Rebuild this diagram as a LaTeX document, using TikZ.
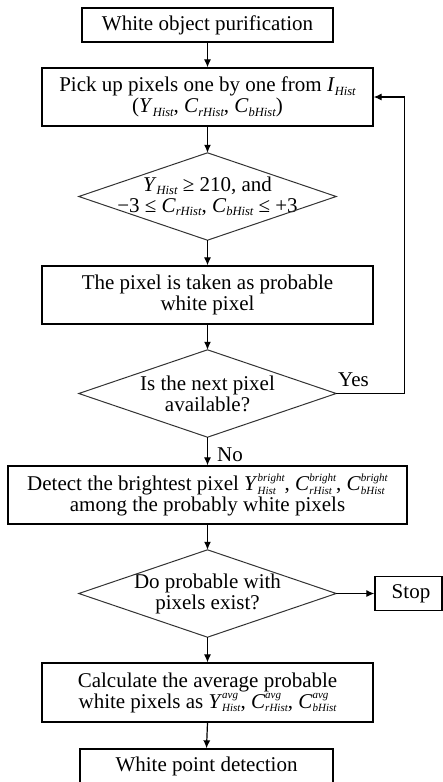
\documentclass[tikz,border=0pt]{standalone}
\usepackage{fontspec}
\setmainfont{Liberation Serif}
\usetikzlibrary{arrows.meta}
\newcommand\hsub[2]{\textit{#1}\raisebox{-3.5pt}{\fontsize{12.5}{12.5}\selectfont\itshape #2}}
\newcommand\hsupsub[3]{\textit{#1}\raisebox{-3.5pt}{\fontsize{11}{11}\selectfont\itshape\shortstack[l]{#2\\#3}}}
\begin{document}
\begin{tikzpicture}[x=1pt,y=-1pt,
  font=\fontsize{21}{21}\selectfont,
  box/.style={draw, line width=1.3pt, inner sep=0pt, align=center, minimum height=34pt},
  dia/.style={inner sep=0pt, align=center, minimum width=257pt, minimum height=87pt},
  diaedge/.style={draw=black!80, line width=1pt},
  arr/.style={line width=1.2pt, -{Latex[length=8pt,width=7pt]}},
  lbl/.style={inner sep=0pt, anchor=base west}]
\clip (0,0) rectangle (443,782);
\fill[white] (0,0) rectangle (443,782);

\node[box, minimum width=251pt] (b1) at (207.5,25) {White object purification};
\node[box, minimum width=331pt, minimum height=58pt] (b2) at (207.5,97)
  {Pick up pixels one by one from \hsub{I}{Hist}\\(\hsub{Y}{Hist}, \hsub{C}{rHist}, \hsub{C}{bHist})};
\node[dia] (d1) at (207.5,196.5)
  {\raisebox{3pt}{\hsub{Y}{Hist} ≥ 210, and}\\\raisebox{3pt}{−3 ≤ \hsub{C}{rHist}, \hsub{C}{bHist} ≤ +3}};
\node[box, minimum width=331pt, minimum height=58pt] (b3) at (207.5,295)
  {The pixel is taken as probable\\white pixel};
\node[dia] (d2) at (207.5,393.5) {Is the next pixel\\available?};
\node[box, minimum width=399pt, minimum height=58pt] (b4) at (207.5,495)
  {Detect the brightest pixel \hsupsub{Y}{bright}{Hist}, \hsupsub{C}{bright}{rHist}, \hsupsub{C}{bright}{bHist}\\among the probably white pixels};
\node[dia] (d3) at (207.5,593.5) {Do probable with\\pixels exist?};
\node[box, minimum width=67pt] (stop) at (408.5,593.5) {\hspace*{5pt}Stop};
\node[box, minimum width=331pt, minimum height=59pt] (b5) at (207.5,692.5)
  {Calculate the average probable\\white pixels as \hsupsub{Y}{avg}{Hist}, \hsupsub{C}{avg}{rHist}, \hsupsub{C}{avg}{bHist}};
\node[box, minimum width=253pt] (b6) at (206.5,766) {White point detection};

\foreach \d in {d1,d2,d3}
  \draw[diaedge] (\d.north) -- (\d.east) -- (\d.south) -- (\d.west) -- cycle;

\draw[arr] (b1.south) -- (b2.north);
\draw[arr] (b2.south) -- (d1.north);
\draw[arr] (d1.south) -- (b3.north);
\draw[arr] (b3.south) -- (d2.north);
\draw[arr] (d2.south) -- (b4.north);
\draw[arr] (b4.south) -- (d3.north);
\draw[arr] (d3.east) -- (stop.west);
\draw[arr] (d3.south) -- (b5.north);
\draw[arr] (b5.south) -- (b6.north);
\draw[arr] (d2.east) -- ++(68,0) coordinate (lc) |- (b2.east);

\node[lbl] (yes) at (338,386) {Yes};
\node[lbl] (no) at (217,461) {No};
\end{tikzpicture}
\end{document}
